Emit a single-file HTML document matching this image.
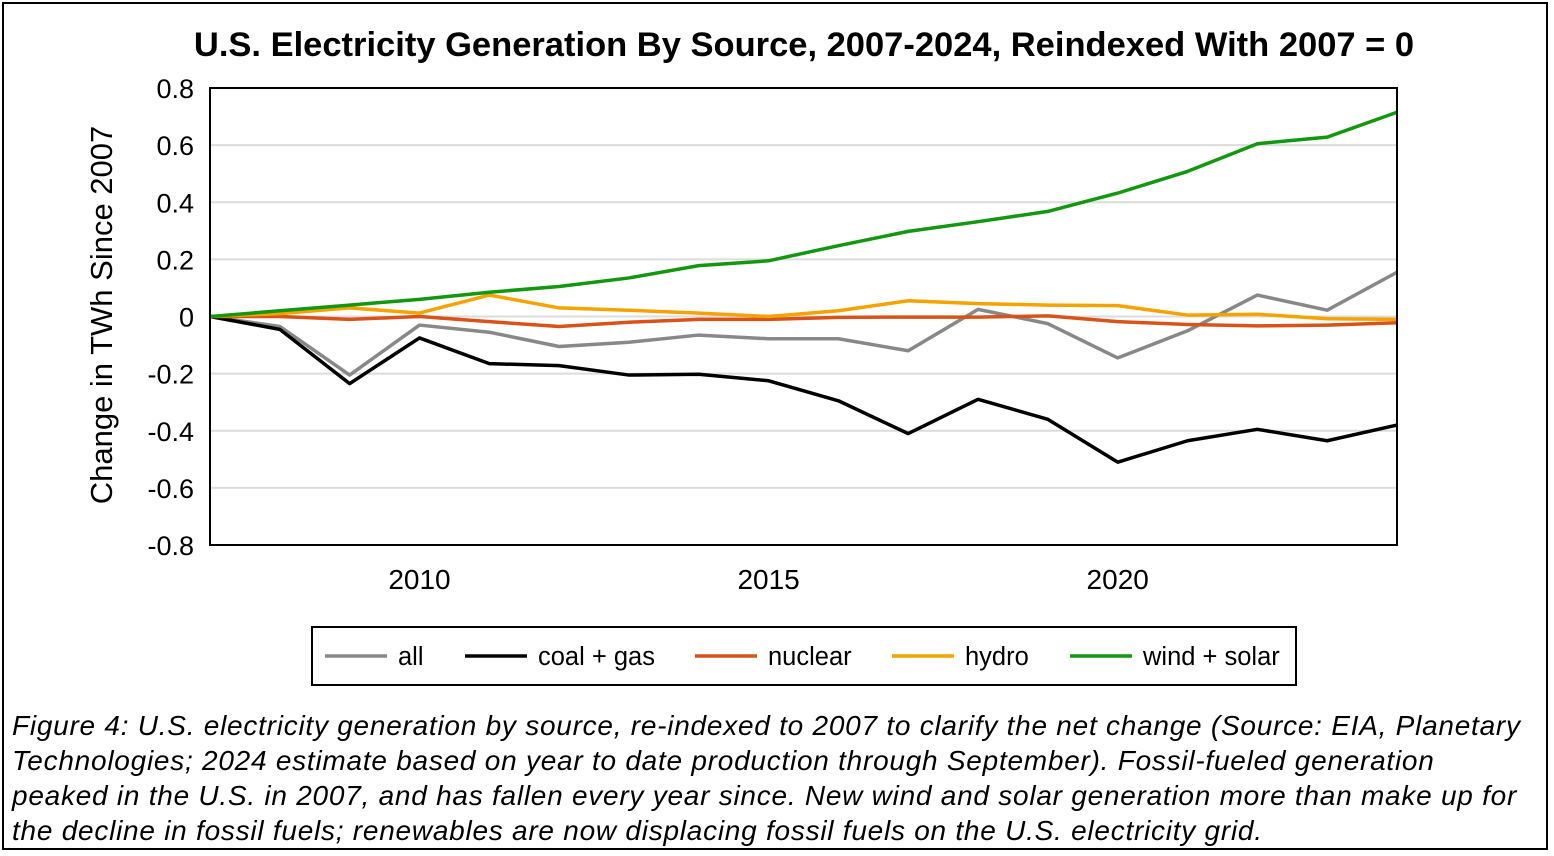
<!DOCTYPE html>
<html><head><meta charset="utf-8"><style>
body{margin:0;background:#fff;}
#wrap{position:relative;width:1554px;height:856px;overflow:hidden;font-family:"Liberation Sans",Arial,sans-serif;}
#frame{position:absolute;left:2px;top:2px;width:1546px;height:848px;border:2px solid #000;box-sizing:border-box;}
#cap{position:absolute;left:12px;top:708px;width:1540px;font-style:italic;font-size:28px;letter-spacing:0.75px;line-height:35px;color:#000;white-space:nowrap;}
</style></head><body>
<div id="wrap">
<div id="frame"></div>
<svg id="chart" width="1554" height="700" style="position:absolute;left:0;top:0"></svg>
<div id="cap">Figure 4: U.S. electricity generation by source, re-indexed to 2007 to clarify the net change (Source: EIA, Planetary<br>Technologies; 2024 estimate based on year to date production through September). Fossil-fueled generation<br>peaked in the U.S. in 2007, and has fallen every year since. New wind and solar generation more than make up for<br>the decline in fossil fuels; renewables are now displacing fossil fuels on the U.S. electricity grid.</div>
</div>
<script>
const years=[2007,2008,2009,2010,2011,2012,2013,2014,2015,2016,2017,2018,2019,2020,2021,2022,2023,2024];
const allVals=[0,-0.035,-0.205,-0.03,-0.055,-0.105,-0.09,-0.065,-0.078,-0.078,-0.12,0.025,-0.025,-0.145,-0.05,0.075,0.022,0.155];
const coalGas=[0,-0.045,-0.235,-0.075,-0.165,-0.172,-0.205,-0.202,-0.225,-0.295,-0.41,-0.29,-0.36,-0.51,-0.435,-0.395,-0.435,-0.38];
const nuclear=[0,0,-0.01,0,-0.018,-0.035,-0.02,-0.01,-0.01,-0.003,-0.002,-0.002,0.002,-0.018,-0.028,-0.033,-0.03,-0.022];
const hydro=[0,0.01,0.03,0.012,0.075,0.03,0.022,0.012,0,0.02,0.055,0.045,0.04,0.038,0.005,0.008,-0.008,-0.01];
const windSolar=[0,0.02,0.04,0.06,0.085,0.105,0.135,0.178,0.195,0.248,0.298,0.332,0.368,0.432,0.508,0.605,0.628,0.715];
const yTicks=[0.8,0.6,0.4,0.2,0,-0.2,-0.4,-0.6,-0.8];
const yTickLabels=["0.8","0.6","0.4","0.2","0","-0.2","-0.4","-0.6","-0.8"];
const xTicks=[2010,2015,2020];
const seriesNames=["all","coal + gas","nuclear","hydro","wind + solar"];
const ns="http://www.w3.org/2000/svg";
const svg=document.getElementById('chart');
const L=210,R=1397,T=88,B=545;
const X=v=>L+(v-2007)/(2024-2007)*(R-L);
const Y=v=>T+(0.8-v)/1.6*(B-T);
function mk(tag,attrs,parent){const e=document.createElementNS(ns,tag);for(const k in attrs)e.setAttribute(k,attrs[k]);(parent||svg).appendChild(e);return e;}
let t=mk('text',{x:804,y:56,'text-anchor':'middle','font-size':'34.5','font-weight':'bold'});t.textContent="U.S. Electricity Generation By Source, 2007-2024, Reindexed With 2007 = 0";


yTicks.forEach((v,i)=>{
  if(v!==0.8&&v!==-0.8){const g=mk('line',{x1:L,x2:R,y1:Y(v),y2:Y(v),stroke:'#dcdcdc','stroke-width':2});
  
  }
  const lb=mk('text',{x:L-16,y:Y(v)+10,'text-anchor':'end','font-size':'27'});lb.textContent=yTickLabels[i];
  
  
});
xTicks.forEach(v=>{
  const lb=mk('text',{x:X(v),y:589,'text-anchor':'middle','font-size':'28'});lb.textContent=v;
  
  
});
const yt=mk('text',{x:0,y:0,'text-anchor':'middle','font-size':'31',transform:'translate(112,315) rotate(-90)'});yt.textContent="Change in TWh Since 2007";


const colors=['#888888','#000000','#d95319','#f5a300','#12980f'];
const data=[allVals,coalGas,nuclear,hydro,windSolar];
const keys=['all','coal-gas','nuclear','hydro','wind-solar'];
data.forEach((arr,i)=>{
  const p=mk('polyline',{points:arr.map((v,j)=>X(years[j])+','+Y(v)).join(' '),fill:'none',stroke:colors[i],'stroke-width':3.5,'stroke-linejoin':'round'});
  
  
});
const ax=mk('rect',{x:L,y:T,width:R-L,height:B-T,fill:'none',stroke:'#000','stroke-width':2});


const lg=mk('rect',{x:312,y:627,width:984,height:58,fill:'#fff',stroke:'#000','stroke-width':2});


const lx=[325,465,695,892,1070];
seriesNames.forEach((n,i)=>{
  const ln=mk('line',{x1:lx[i],x2:lx[i]+62,y1:656,y2:656,stroke:colors[i],'stroke-width':3.5});
  
  
  const tx=mk('text',{x:lx[i]+73,y:665,'font-size':'25.5'});tx.textContent=n;
  
  
});
</script>
</body></html>
